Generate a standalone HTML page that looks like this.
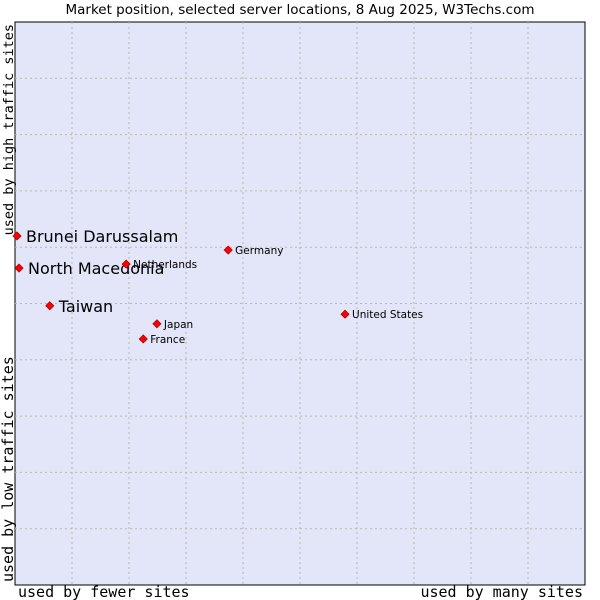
<!DOCTYPE html>
<html><head><meta charset="utf-8"><style>
body{margin:0;background:#fff;width:600px;height:600px;overflow:hidden}
svg{display:block}
</style></head><body>
<svg id="chart" width="600" height="600" xmlns="http://www.w3.org/2000/svg">
<text x="300" y="14" text-anchor="middle" font-family="DejaVu Sans, sans-serif" font-size="13.5">Market position, selected server locations, 8 Aug 2025, W3Techs.com</text>
<rect x="15" y="22" width="570" height="563" fill="#e3e5f8" stroke="#000" stroke-width="1"/>
<g id="grid"></g>
<g id="points"></g>
<text x="18" y="597" font-family="DejaVu Sans Mono, monospace" font-size="15">used by fewer sites</text>
<text x="583" y="597" text-anchor="end" font-family="DejaVu Sans Mono, monospace" font-size="15">used by many sites</text>
<text transform="translate(13,24) rotate(-90)" text-anchor="end" font-family="DejaVu Sans Mono, monospace" font-size="13.5">used by high traffic sites</text>
<text transform="translate(13,582) rotate(-90)" font-family="DejaVu Sans Mono, monospace" font-size="15">used by low traffic sites</text>
</svg>
<script>
const names = ["Brunei Darussalam","North Macedonia","Taiwan","Netherlands","Germany","Japan","France","United States"];
const xVals = [0.35,0.7,6.1,19.5,37.4,24.9,22.5,57.9];
const yVals = [62.0,56.3,49.6,57.0,59.5,46.4,43.7,48.1];
const highlighted = [true,true,true,false,false,false,false,false];
const L=15,T=22,W=570,H=563;
const NS="http://www.w3.org/2000/svg";
const xs=v=>L+v/100*W, ys=v=>T+H-v/100*H;
const grid=document.getElementById('grid');
for(let i=1;i<10;i++){
  const a=document.createElementNS(NS,'line');
  
  
  a.setAttribute('x1',xs(i*10));a.setAttribute('x2',xs(i*10));a.setAttribute('y1',T);a.setAttribute('y2',T+H);
  a.setAttribute('stroke','#b8b8b8');a.setAttribute('stroke-dasharray','2,3');
  grid.appendChild(a);
  const b=document.createElementNS(NS,'line');
  
  
  b.setAttribute('y1',ys(i*10));b.setAttribute('y2',ys(i*10));b.setAttribute('x1',L);b.setAttribute('x2',L+W);
  b.setAttribute('stroke','#b8b8b8');b.setAttribute('stroke-dasharray','2,3');
  grid.appendChild(b);
}
const pts=document.getElementById('points');
names.forEach((n,i)=>{
  const x=xs(xVals[i]),y=ys(yVals[i]);
  const p=document.createElementNS(NS,'path');
  
  
  p.setAttribute('d',`M${x} ${y-4}L${x+4} ${y}L${x} ${y+4}L${x-4} ${y}Z`);
  p.setAttribute('fill','#ff0000');p.setAttribute('stroke','#b00000');p.setAttribute('stroke-width','0.8');
  pts.appendChild(p);
  const t=document.createElementNS(NS,'text');
  
  
  const big=highlighted[i];
  t.setAttribute('x',x+(big?9:7));t.setAttribute('y',y+(big?6:4));
  t.setAttribute('font-family','DejaVu Sans, sans-serif');
  t.setAttribute('font-size',big?'16':'10.5');
  t.textContent=n;
  pts.appendChild(t);
});
</script>
</body></html>
